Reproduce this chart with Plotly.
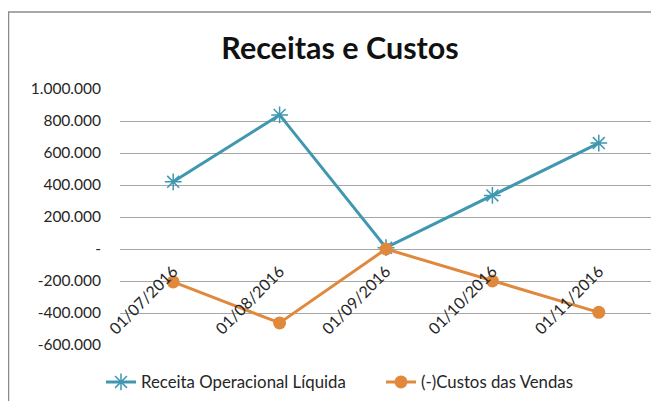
import plotly.graph_objects as go

categories = ["01/07/2016", "01/08/2016", "01/09/2016", "01/10/2016", "01/11/2016"]
receita = [420000, 838000, 8000, 335000, 662000]
custos = [-206000, -462000, 0, -200000, -396000]
ytick_vals = [-600000, -400000, -200000, 0, 200000, 400000, 600000, 800000, 1000000]
ytick_text = ["-600.000", "-400.000", "-200.000", "-", "200.000", "400.000", "600.000", "800.000", "1.000.000"]

TEAL = "#3f97b0"
ORANGE = "#e0893d"
FONT = "Lato"

# page has an 8px body margin; figure sized so it fits the window
W, H = 651, 393
L, T, PW, PH = 112, 81, 532, 256

fig = go.Figure()
fig.add_trace(go.Scatter(
    x=categories, y=receita, name="Receita Operacional Líquida",
    mode="lines+markers", legend="legend",
    line=dict(color=TEAL, width=3),
    marker=dict(symbol="asterisk-open", size=14, line=dict(color=TEAL, width=1.5), color=TEAL),
))
fig.add_trace(go.Scatter(
    x=categories, y=custos, name="(-)Custos das Vendas",
    mode="lines+markers", legend="legend2",
    line=dict(color=ORANGE, width=3),
    marker=dict(symbol="circle", size=13, color=ORANGE),
))

legend_common = dict(orientation="h", xanchor="left", xref="container",
                     yref="container", y=1 - 374 / H, yanchor="middle",
                     font=dict(family=FONT, size=16.8, color="#262626"), bgcolor="rgba(0,0,0,0)")

fig.update_layout(
    width=W, height=H,
    margin=dict(l=L, r=W - L - PW, t=T, b=H - T - PH, autoexpand=False),
    paper_bgcolor="white", plot_bgcolor="white",
    font=dict(family=FONT, size=15.5, color="#262626"),
    title=dict(text="<b>Receitas e Custos</b>", font=dict(family=FONT, size=30.5, color="#111111"),
               x=(332 - L) / PW, xref="paper", xanchor="center", y=1 - 40 / H, yref="container", yanchor="middle"),
    showlegend=True,
    legend=dict(x=93 / W, **legend_common),
    legend2=dict(x=373 / W, **legend_common),
    xaxis=dict(type="category", range=[-0.5, 4.5], anchor="free", position=0.375,
               tickangle=-45, showgrid=False, zeroline=False, showline=False, ticks="",
               tickfont=dict(size=16), ticklabelstandoff=9),
    yaxis=dict(range=[-600000, 1000000], tickvals=ytick_vals, ticktext=ytick_text,
               showgrid=True, gridcolor="#a6a6a6", gridwidth=1, zeroline=False,
               showline=False, ticks="", ticklabelstandoff=18),
    shapes=[dict(type="rect", xref="paper", yref="paper",
                 x0=(0.5 - L) / PW, x1=(W + 4 - L) / PW,
                 y0=(T + PH - (H + 4)) / PH, y1=(T + PH - 4) / PH,
                 line=dict(color="#8a8a8a", width=1.5), layer="below")],
)

fig.write_html("out.html")
